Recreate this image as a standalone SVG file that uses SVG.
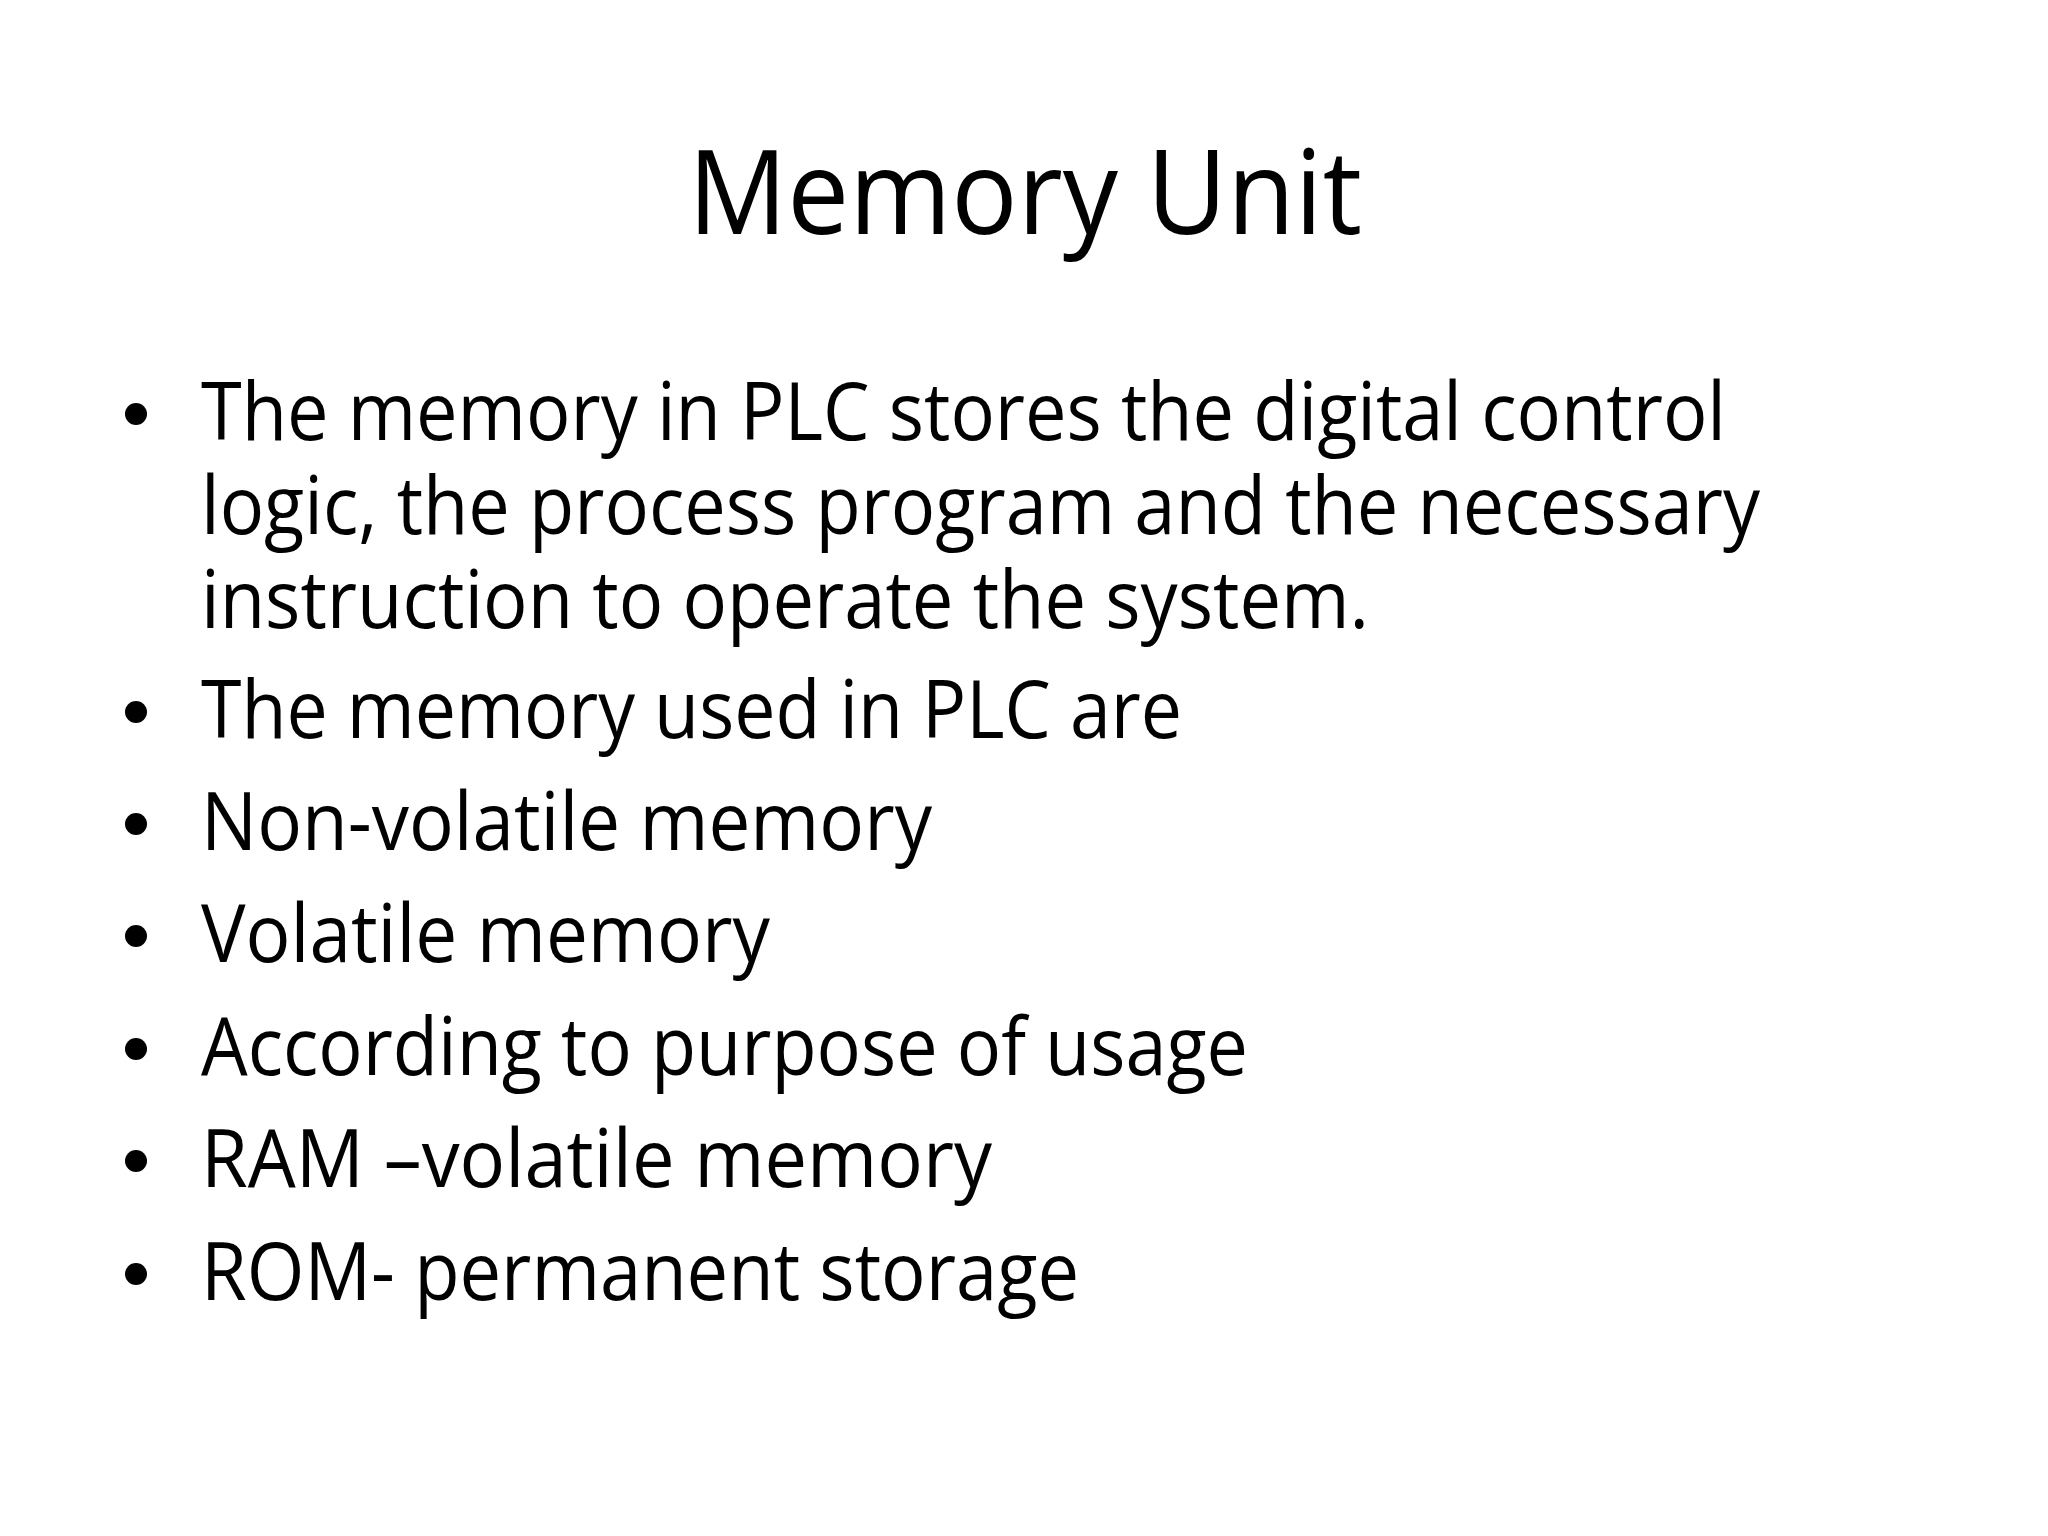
<svg xmlns="http://www.w3.org/2000/svg" width="2048" height="1536" viewBox="0 0 2048 1536">
<style>
text{font-family:"Open Sans","Noto Sans","Liberation Sans",sans-serif;fill:#000}
.b{font-size:80px}
.t{font-size:118px}
</style>
<rect width="2048" height="1536" fill="#fff"/>
<g id="title"><text class="t" x="1025" y="234" text-anchor="middle" textLength="674" lengthAdjust="spacingAndGlyphs">Memory Unit</text></g>
<g id="bullets">
<g fill="#000"><circle cx="136" cy="414" r="11"/><circle cx="136" cy="712" r="11"/><circle cx="136" cy="824" r="11"/><circle cx="136" cy="936" r="11"/><circle cx="136" cy="1049" r="11"/><circle cx="136" cy="1161" r="11"/><circle cx="136" cy="1274" r="11"/></g>
<text class="b" x="201" y="440" textLength="1525" lengthAdjust="spacingAndGlyphs">The memory in PLC stores the digital control</text>
<text class="b" x="201" y="534" textLength="1559" lengthAdjust="spacingAndGlyphs">logic, the process program and the necessary</text>
<text class="b" x="201" y="628" textLength="1168" lengthAdjust="spacingAndGlyphs">instruction to operate the system.</text>
<text class="b" x="201" y="738" textLength="981" lengthAdjust="spacingAndGlyphs">The memory used in PLC are</text>
<text class="b" x="201" y="850" textLength="731" lengthAdjust="spacingAndGlyphs">Non-volatile memory</text>
<text class="b" x="201" y="962" textLength="569" lengthAdjust="spacingAndGlyphs">Volatile memory</text>
<text class="b" x="201" y="1075" textLength="1047" lengthAdjust="spacingAndGlyphs">According to purpose of usage</text>
<text class="b" x="201" y="1187" textLength="791" lengthAdjust="spacingAndGlyphs">RAM –volatile memory</text>
<text class="b" x="201" y="1300" textLength="878" lengthAdjust="spacingAndGlyphs">ROM- permanent storage</text>
</g>
</svg>
